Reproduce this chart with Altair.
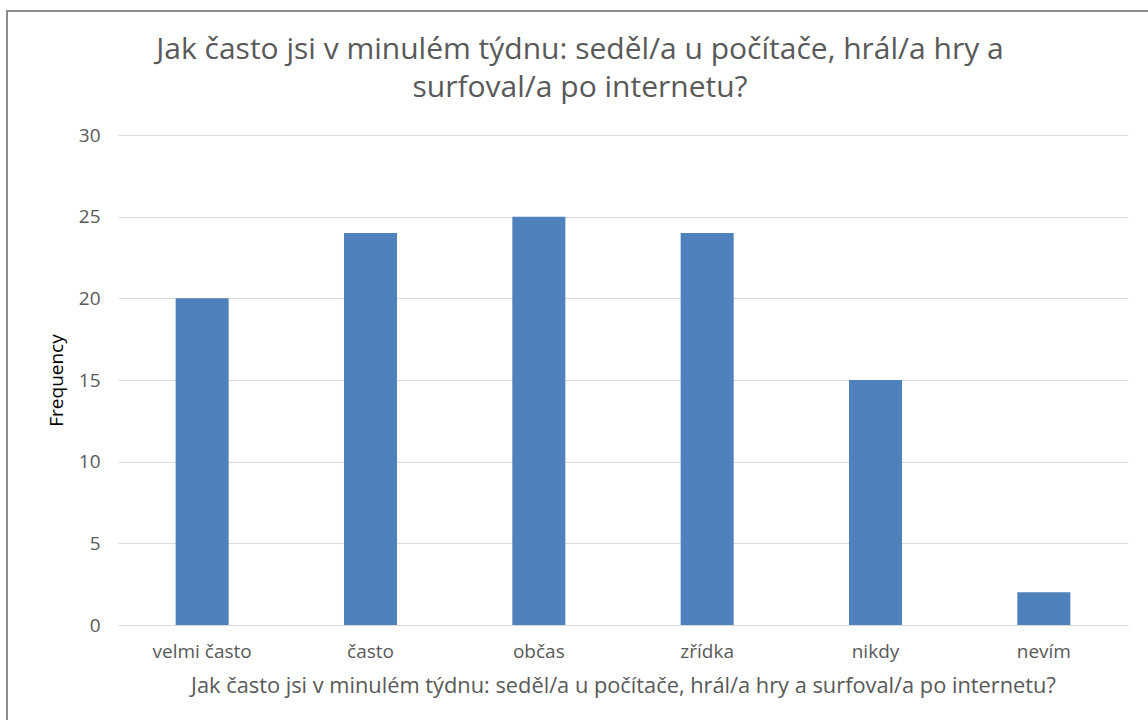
import altair as alt
import pandas as pd

categories = ["velmi často", "často", "občas", "zřídka", "nikdy", "nevím"]
frequency = [20, 24, 25, 24, 15, 2]
y_ticks = [0, 5, 10, 15, 20, 25, 30]

title_lines = ["Jak často jsi v minulém týdnu: seděl/a u počítače, hrál/a hry a",
               "surfoval/a po internetu?"]
x_title = "Jak často jsi v minulém týdnu: seděl/a u počítače, hrál/a hry a surfoval/a po internetu?"
y_title = "Frequency"

df = pd.DataFrame({"cat": categories, "freq": frequency})

FONT = "Open Sans"
TXT = "#595959"

bars = alt.Chart(df).mark_bar(color="#4F81BD", width=alt.RelativeBandSize(0.315)).encode(
    x=alt.X("cat:N", sort=categories, title=x_title,
            scale=alt.Scale(paddingInner=0, paddingOuter=0),
            axis=alt.Axis(labelAngle=0, labelFontSize=19, labelColor=TXT, labelFont=FONT,
                          labelPadding=17, ticks=False, domainColor="#D9D9D9",
                          titleFontSize=21.8, titleColor=TXT, titleFont=FONT,
                          titleFontWeight="normal", titlePadding=14)),
    y=alt.Y("freq:Q", title=y_title,
            scale=alt.Scale(domain=[0, 30], nice=False),
            axis=alt.Axis(values=y_ticks, labelFontSize=19, labelColor=TXT, labelFont=FONT,
                          labelPadding=18, ticks=False, domain=False, gridColor="#D9D9D9",
                          titleFontSize=19, titleColor="#000000", titleFont=FONT,
                          titleFontWeight="normal", titlePadding=12)),
)

border = alt.Chart(pd.DataFrame({"a": [0]})).mark_rect(
    fill=None, stroke="#8C8C8C", strokeWidth=2
).encode(
    x=alt.value(-111), x2=alt.value(1100),
    y=alt.value(-124), y2=alt.value(700),
)

title = alt.Chart(pd.DataFrame({"a": [0]})).mark_text(
    font=FONT, fontSize=30, color=TXT, align="center", baseline="middle", lineHeight=38
).encode(
    x=alt.value(462), y=alt.value(-85), text=alt.value(title_lines),
)

chart = alt.layer(bars, border, title).properties(
    width=1010, height=490,
    background="white",
    padding={"left": 118, "top": 135, "right": 20, "bottom": 95},
    autosize=alt.AutoSizeParams(type="none"),
).configure_view(stroke="transparent", strokeWidth=0)

chart.save("out.html", embed_options={"renderer": "svg", "actions": False})
